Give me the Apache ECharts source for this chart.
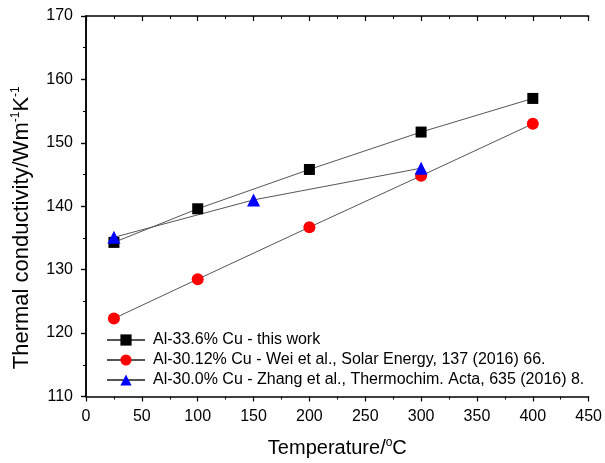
<!DOCTYPE html>
<html><head><meta charset="utf-8">
<script src="https://cdn.jsdelivr.net/npm/echarts@6/dist/echarts.min.js"></script>
<style>html,body{margin:0;padding:0;background:#fff}#c{width:605px;height:463px}</style>
</head><body><div id="c"></div>
<script>
var seriesNames = [
  'Al-33.6% Cu - this work',
  'Al-30.12% Cu - Wei et al., Solar Energy, 137 (2016) 66.',
  'Al-30.0% Cu - Zhang et al., Thermochim. Acta, 635 (2016) 8.'
];
var xThisWork = [25, 100, 200, 300, 400];
var yThisWork = [134.3, 139.6, 145.8, 151.7, 157.0];
var xWei = [25, 100, 200, 300, 400];
var yWei = [122.3, 128.5, 136.7, 144.8, 153.0];
var xZhang = [25, 150, 300];
var yZhang = [135.1, 141.0, 146.0];

function pairs(xs, ys){ return xs.map(function(x,i){ return [x, ys[i]]; }); }

var font = 'Liberation Sans, Arial, sans-serif';
var chart = echarts.init(document.getElementById('c'));
var axisLine = {show:true, lineStyle:{color:'#000', width:1.5}};
chart.setOption({
  animation:false,
  grid:{left:86, right:13, top:16, bottom:62},
  legend:{
    orient:'vertical', left:101, top:327, padding:5, itemWidth:38, itemHeight:14, itemGap:4,
    textStyle:{fontFamily:font, fontSize:16, color:'#000', padding:[0,0,0,3]},
    data:seriesNames
  },
  xAxis:[{
    type:'value', min:0, max:450, interval:50,
    axisLine:axisLine,
    axisTick:{show:true, inside:false, length:5, lineStyle:{color:'#000', width:1.2}},
    minorTick:{show:true, splitNumber:2, length:3, lineStyle:{color:'#000', width:1}},
    splitLine:{show:false},
    axisLabel:{fontFamily:font, fontSize:16, color:'#000', margin:12},
    name:'{a|Temperature/}{s|o}{a|C}', nameLocation:'middle', nameGap:40,
    nameTextStyle:{rich:{a:{fontFamily:font, fontSize:20, color:'#000'}, s:{fontFamily:font, fontSize:12, color:'#000', padding:[0,0,11,0]}}}
  },{
    type:'value', position:'top', min:0, max:450, interval:50,
    axisLine:axisLine,
    axisTick:{show:true, inside:true, length:5, lineStyle:{color:'#000', width:1.2}},
    minorTick:{show:true, splitNumber:2, length:3, lineStyle:{color:'#000', width:1}},
    splitLine:{show:false}, axisLabel:{show:false}
  }],
  yAxis:[{
    type:'value', min:110, max:170, interval:10,
    axisLine:axisLine,
    axisTick:{show:true, inside:false, length:5, lineStyle:{color:'#000', width:1.2}},
    minorTick:{show:true, splitNumber:2, length:3, lineStyle:{color:'#000', width:1}},
    splitLine:{show:false},
    axisLabel:{fontFamily:font, fontSize:16, color:'#000', margin:13},
    name:'{a|Thermal conductivity/Wm}{s|-1}{a|K}{s|-1}', nameLocation:'middle', nameGap:52,
    nameTextStyle:{padding:[0,43,0,0], rich:{a:{fontFamily:font, fontSize:22, color:'#000'}, s:{fontFamily:font, fontSize:12, color:'#000', padding:[0,0,12,0]}}}
  },{
    type:'value', position:'right', min:110, max:170, interval:10,
    axisLine:axisLine,
    axisTick:{show:true, inside:true, length:5, lineStyle:{color:'#000', width:1.2}},
    minorTick:{show:true, splitNumber:2, length:3, lineStyle:{color:'#000', width:1}},
    splitLine:{show:false}, axisLabel:{show:false}
  }],
  series:[
    {name:seriesNames[0], type:'line', data:pairs(xThisWork,yThisWork), symbol:'rect', symbolSize:11,
     itemStyle:{color:'#000'}, lineStyle:{color:'#555', width:1}},
    {name:seriesNames[1], type:'line', data:pairs(xWei,yWei), symbol:'circle', symbolSize:12,
     itemStyle:{color:'#ff0000'}, lineStyle:{color:'#555', width:1}},
    {name:seriesNames[2], type:'line', data:pairs(xZhang,yZhang), symbol:'triangle', symbolSize:13,
     itemStyle:{color:'#0000ff'}, lineStyle:{color:'#555', width:1}}
  ]
});
</script></body></html>
